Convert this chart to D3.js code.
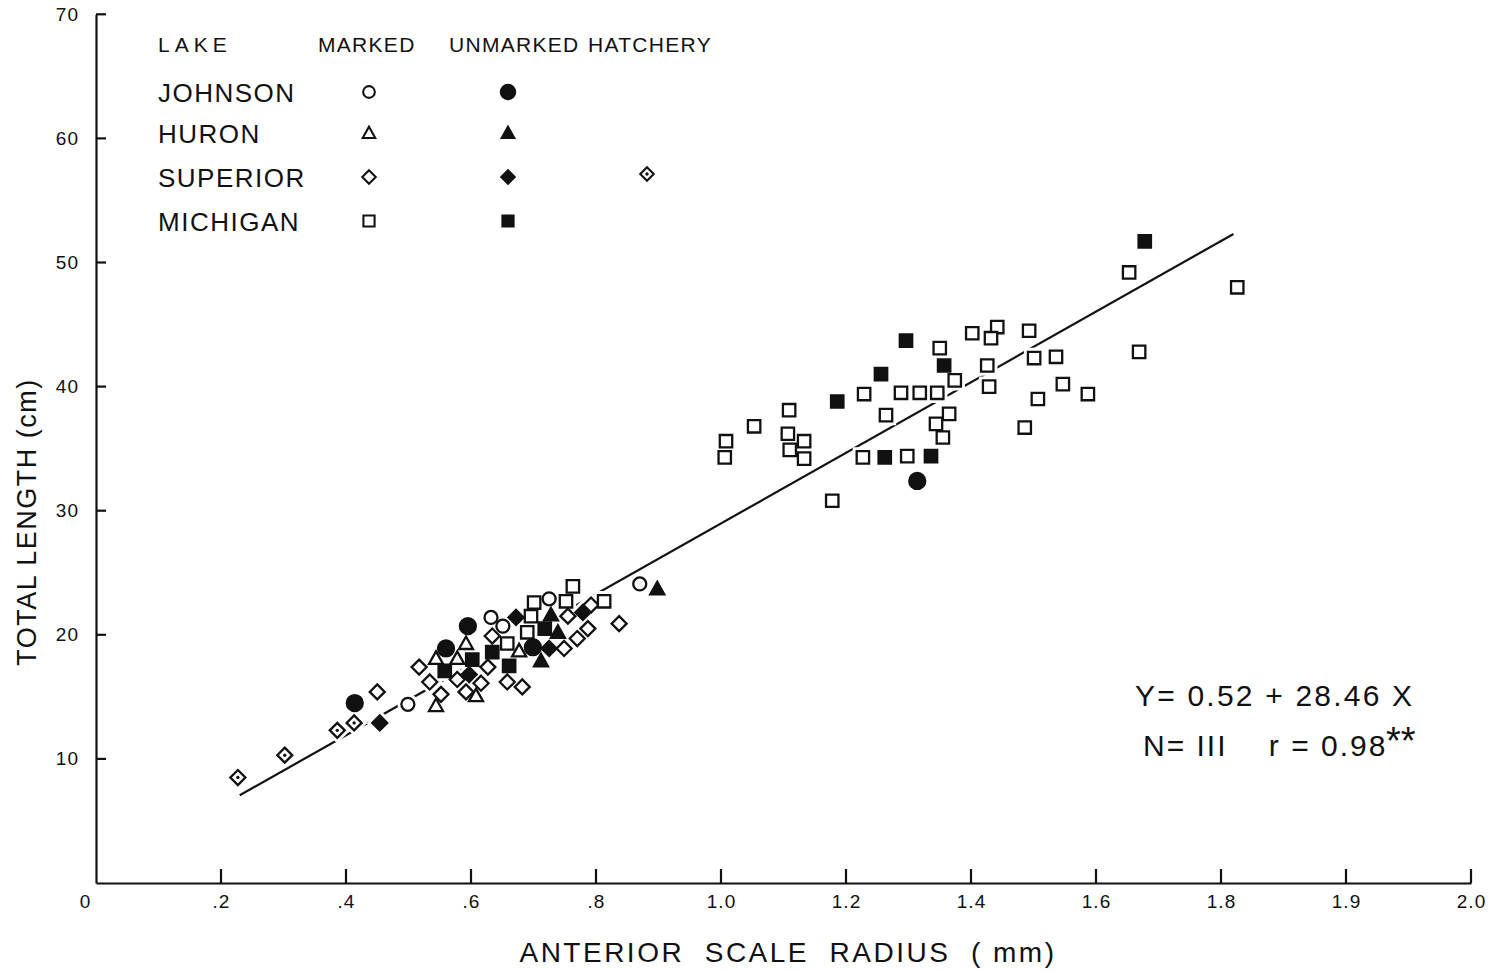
<!DOCTYPE html>
<html>
<head>
<meta charset="utf-8">
<script src="https://cdn.jsdelivr.net/npm/d3@7"></script>
<style>
  body { margin: 0; background: #fff; }
  text { font-family: "Liberation Sans", Arial, sans-serif; fill: #111; }
</style>
</head>
<body>
<script>
// scale radius (mm) vs total length (cm)
var johnsonMarked = [[0.499, 14.4], [0.632, 21.4], [0.651, 20.7], [0.725, 22.9], [0.870, 24.1]];
var johnsonUnmarked = [[0.414, 14.5], [0.560, 18.9], [0.595, 20.7], [0.699, 19.0], [1.314, 32.4]];
var huronMarked = [[0.544, 18.1], [0.544, 14.3], [0.578, 18.1], [0.592, 19.3], [0.608, 15.1], [0.677, 18.7]];
var huronUnmarked = [[0.712, 17.9], [0.728, 21.6], [0.739, 20.2], [0.898, 23.7]];
var superiorMarked = [[0.450, 15.4], [0.517, 17.4], [0.534, 16.2], [0.552, 15.2], [0.578, 16.4],
    [0.592, 15.4], [0.616, 16.1], [0.627, 17.4], [0.634, 19.9], [0.658, 16.2], [0.682, 15.8],
    [0.755, 21.5], [0.749, 18.9], [0.770, 19.7], [0.787, 20.5], [0.792, 22.4], [0.837, 20.9]];
var superiorUnmarked = [[0.454, 12.9], [0.597, 16.8], [0.672, 21.4], [0.725, 18.9], [0.779, 21.8]];
var superiorHatchery = [[0.227, 8.5], [0.302, 10.3], [0.386, 12.3], [0.413, 12.9]];
var michiganMarked = [[0.658, 19.3], [0.690, 20.2], [0.696, 21.5], [0.701, 22.6], [0.752, 22.7],
    [0.763, 23.9], [0.813, 22.7], [1.008, 35.6], [1.006, 34.3], [1.053, 36.8], [1.109, 38.1],
    [1.107, 36.2], [1.110, 34.9], [1.133, 35.6], [1.133, 34.2], [1.350, 43.1], [1.402, 44.3],
    [1.442, 44.8], [1.432, 43.9], [1.493, 44.5], [1.374, 40.5], [1.426, 41.7], [1.429, 40.0],
    [1.501, 42.3], [1.536, 42.4], [1.547, 40.2], [1.587, 39.4], [1.507, 39.0], [1.486, 36.7],
    [1.229, 39.4], [1.178, 30.8], [1.227, 34.3], [1.298, 34.4], [1.264, 37.7], [1.288, 39.5],
    [1.318, 39.5], [1.346, 39.5], [1.344, 37.0], [1.365, 37.8], [1.355, 35.9], [1.653, 49.2],
    [1.826, 48.0], [1.669, 42.8]];
var michiganUnmarked = [[0.558, 17.1], [0.602, 18.0], [0.634, 18.6], [0.661, 17.5], [0.718, 20.5],
    [1.186, 38.8], [1.256, 41.0], [1.296, 43.7], [1.357, 41.7], [1.262, 34.3], [1.336, 34.4],
    [1.678, 51.7]];

// regression line ends, Y = 0.52 + 28.46 X
var fitX = [0.23, 1.82];
var fitY = [7.07, 52.3];

var xTicks = [0, 0.2, 0.4, 0.6, 0.8, 1.0, 1.2, 1.4, 1.6, 1.8, 2.0, 2.2];
var xTickLabels = ["0", ".2", ".4", ".6", ".8", "1.0", "1.2", "1.4", "1.6", "1.8", "1.9", "2.0"];
var yTicks = [10, 20, 30, 40, 50, 60, 70];

var lakes = ["JOHNSON", "HURON", "SUPERIOR", "MICHIGAN"];

var w = 1507, h = 972;

var svg = d3.select("body").append("svg")
    .attr("width", w)
    .attr("height", h);

var x = d3.scaleLinear().domain([0, 2.2]).range([96, 1471]);
var y = d3.scaleLinear().domain([0, 70]).range([883, 14.3]);

// marker paths, centred on 0,0
function shape(kind) {
    if (kind == "circle") return d3.symbol(d3.symbolCircle, Math.PI * 6.5 * 6.5)();
    if (kind == "bigcircle") return d3.symbol(d3.symbolCircle, Math.PI * 8 * 8)();
    if (kind == "square") return "M-6.2,-6.2H6.2V6.2H-6.2Z";
    if (kind == "diamond") return "M0,-7.5L7.5,0L0,7.5L-7.5,0Z";
    if (kind == "triangle") return "M0,-7L7,5.5H-7Z";
}

var groups = [
    { pts: johnsonMarked, kind: "circle", fill: false },
    { pts: johnsonUnmarked, kind: "bigcircle", fill: true },
    { pts: huronMarked, kind: "triangle", fill: false },
    { pts: huronUnmarked, kind: "triangle", fill: true },
    { pts: superiorMarked, kind: "diamond", fill: false },
    { pts: superiorUnmarked, kind: "diamond", fill: true },
    { pts: superiorHatchery, kind: "diamond", fill: false, dot: true },
    { pts: michiganMarked, kind: "square", fill: false },
    { pts: michiganUnmarked, kind: "square", fill: true }
];

// axes (labels and baseline from d3.axis, tick marks drawn inward below)
var xAxis = d3.axisBottom(x)
    .tickValues(xTicks)
    .tickFormat(function (d, i) { return xTickLabels[i]; })
    .tickSize(0)
    .tickPadding(12);

var gx = svg.append("g")
    .attr("transform", "translate(0," + y(0) + ")")
    .call(xAxis);
gx.selectAll("text")
    .attr("font-size", "19px")
    .attr("letter-spacing", "1px")
    .attr("dx", function (d) { return d == 0 ? "-11px" : "0"; });
gx.select(".domain").attr("stroke", "#111").attr("stroke-width", 2.2);

var yAxis = d3.axisLeft(y)
    .tickValues(yTicks)
    .tickSize(0)
    .tickPadding(17);

var gy = svg.append("g")
    .attr("transform", "translate(" + x(0) + ",0)")
    .call(yAxis);
gy.selectAll("text").attr("font-size", "19px").attr("letter-spacing", "1px");
gy.select(".domain").attr("stroke", "#111").attr("stroke-width", 2.2);

svg.append("g").selectAll("line")
    .data(xTicks.slice(1))
    .enter()
    .append("line")
    .attr("x1", function (d) { return x(d); })
    .attr("x2", function (d) { return x(d); })
    .attr("y1", y(0))
    .attr("y2", y(0) - 14)
    .attr("stroke", "#111")
    .attr("stroke-width", 2.2);

svg.append("g").selectAll("line")
    .data(yTicks)
    .enter()
    .append("line")
    .attr("x1", x(0))
    .attr("x2", x(0) + 10)
    .attr("y1", function (d) { return y(d); })
    .attr("y2", function (d) { return y(d); })
    .attr("stroke", "#111")
    .attr("stroke-width", 2.2);

// regression line
svg.append("line")
    .attr("x1", x(fitX[0])).attr("y1", y(fitY[0]))
    .attr("x2", x(fitX[1])).attr("y2", y(fitY[1]))
    .attr("stroke", "#111")
    .attr("stroke-width", 2.2);

// white halos break the line where the symbols sit
var allPts = [];
groups.forEach(function (g) {
    g.pts.forEach(function (p) { allPts.push({ p: p, g: g }); });
});

svg.append("g").selectAll("path")
    .data(allPts)
    .enter()
    .append("path")
    .attr("d", function (d) { return shape(d.g.kind); })
    .attr("transform", function (d) { return "translate(" + x(d.p[0]) + "," + y(d.p[1]) + ")"; })
    .attr("fill", "#fff")
    .attr("stroke", "#fff")
    .attr("stroke-width", 8);

var marks = svg.append("g");
marks.selectAll("path")
    .data(allPts)
    .enter()
    .append("path")
    .attr("d", function (d) { return shape(d.g.kind); })
    .attr("transform", function (d) { return "translate(" + x(d.p[0]) + "," + y(d.p[1]) + ")"; })
    .attr("fill", function (d) { return d.g.fill ? "#111" : "#fff"; })
    .attr("stroke", "#111")
    .attr("stroke-width", 2.3);

marks.selectAll("circle.dot")
    .data(allPts.filter(function (d) { return d.g.dot; }))
    .enter()
    .append("circle")
    .attr("class", "dot")
    .attr("cx", function (d) { return x(d.p[0]); })
    .attr("cy", function (d) { return y(d.p[1]); })
    .attr("r", 1.7)
    .attr("fill", "#111");

// legend
var legend = svg.append("g");
var heads = [["LAKE", 158], ["MARKED", 318], ["UNMARKED", 449], ["HATCHERY", 588]];
legend.selectAll("text.head")
    .data(heads)
    .enter()
    .append("text")
    .attr("class", "head")
    .attr("x", function (d) { return d[1]; })
    .attr("y", 52)
    .attr("font-size", "21px")
    .attr("letter-spacing", function (d) { return d[0] == "LAKE" ? "5px" : "1.3px"; })
    .text(function (d) { return d[0]; });

var rowY = [92, 133, 177, 221];
legend.selectAll("text.lake")
    .data(lakes)
    .enter()
    .append("text")
    .attr("class", "lake")
    .attr("x", 158)
    .attr("y", function (d, i) { return rowY[i] + 10; })
    .attr("font-size", "26px")
    .attr("letter-spacing", "1.5px")
    .text(function (d) { return d; });

var legendKinds = [["circle", "bigcircle"], ["triangle", "triangle"], ["diamond", "diamond"], ["square", "square"]];
lakes.forEach(function (l, i) {
    legend.append("path")
        .attr("d", shape(legendKinds[i][0]))
        .attr("transform", "translate(369," + rowY[i] + ") scale(0.9)")
        .attr("fill", "#fff").attr("stroke", "#111").attr("stroke-width", 2.3);
    legend.append("path")
        .attr("d", shape(legendKinds[i][1]))
        .attr("transform", "translate(508," + rowY[i] + ") scale(0.9)")
        .attr("fill", "#111").attr("stroke", "#111").attr("stroke-width", 2.3);
});
legend.append("path")
    .attr("d", shape("diamond"))
    .attr("transform", "translate(647,174) scale(0.9)")
    .attr("fill", "#fff").attr("stroke", "#111").attr("stroke-width", 2.3);
legend.append("circle")
    .attr("cx", 647).attr("cy", 174).attr("r", 1.7).attr("fill", "#111");

// axis titles
svg.append("text")
    .attr("x", 788)
    .attr("y", 962)
    .attr("text-anchor", "middle")
    .attr("font-size", "28px")
    .attr("letter-spacing", "2.5px")
    .attr("xml:space", "preserve")
    .text("ANTERIOR  SCALE  RADIUS  ( mm)");

svg.append("text")
    .attr("transform", "translate(36,522) rotate(-90)")
    .attr("text-anchor", "middle")
    .attr("font-size", "27px")
    .attr("letter-spacing", "1.5px")
    .text("TOTAL LENGTH (cm)");

// regression note
svg.append("text")
    .attr("x", 1135)
    .attr("y", 706)
    .attr("font-size", "30px")
    .attr("letter-spacing", "2.2px")
    .attr("xml:space", "preserve")
    .text("Y= 0.52 + 28.46 X");

svg.append("text")
    .attr("x", 1143)
    .attr("y", 756)
    .attr("font-size", "30px")
    .attr("letter-spacing", "2px")
    .attr("xml:space", "preserve")
    .text("N= III    r = 0.98");

svg.append("text")
    .attr("x", 1386)
    .attr("y", 754)
    .attr("font-size", "38px")
    .text("**");
</script>
</body>
</html>
